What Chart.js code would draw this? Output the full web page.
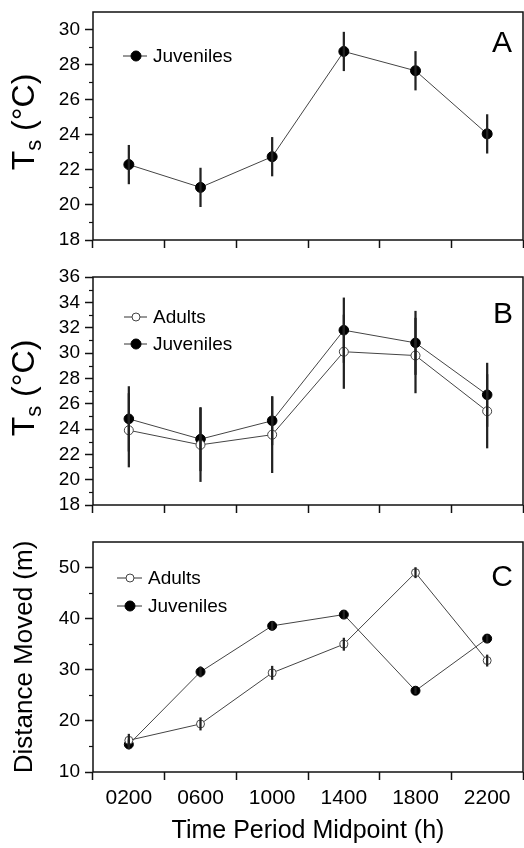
<!DOCTYPE html>
<html>
<head>
<meta charset="utf-8">
<title>Ts and distance moved by time period</title>
<script src="https://cdn.jsdelivr.net/npm/chart.js"></script>
<style>
    body { margin: 0; background: #fff; }
    canvas { position: absolute; left: 0; }
</style>
</head>
<body>
<canvas id="chartA" width="524" height="260" style="top:0"></canvas>
<canvas id="chartB" width="524" height="258" style="top:262px"></canvas>
<canvas id="chartC" width="524" height="328" style="top:520px"></canvas>

<script>
// time periods (x axis)
const timeLabels = ['0200', '0600', '1000', '1400', '1800', '2200'];

// panel A - juvenile Ts
const juvTsA = [22.3, 21.0, 22.75, 28.75, 27.65, 24.05];
const juvTsAErr = [1.1, 1.1, 1.1, 1.1, 1.1, 1.1];

// panel B - adult and juvenile Ts
const adultTsB = [23.9, 22.75, 23.55, 30.1, 29.8, 25.4];
const adultTsBErr = [2.9, 2.9, 3.0, 2.9, 2.95, 2.9];
const juvTsB = [24.8, 23.2, 24.65, 31.8, 30.8, 26.7];
const juvTsBErr = [2.55, 2.5, 1.9, 2.55, 2.5, 2.5];

// panel C - distance moved
const adultDistC = [16.2, 19.4, 29.4, 35.0, 49.0, 31.8];
const adultDistCErr = [1.2, 1.2, 1.3, 1.2, 1.0, 1.1];
const juvDistC = [15.4, 29.6, 38.6, 40.8, 25.9, 36.1];
const juvDistCErr = [0.9, 1.0, 0.8, 0.8, 0.6, 0.7];

// y tick labels
const tsTicksA = [18, 20, 22, 24, 26, 28, 30];
const tsMinorA = [19, 21, 23, 25, 27, 29];
const tsTicksB = [18, 20, 22, 24, 26, 28, 30, 32, 34, 36];
const tsMinorB = [19, 21, 23, 25, 27, 29, 31, 33, 35];
const distTicksC = [10, 20, 30, 40, 50];
const distMinorC = [15, 25, 35, 45];

Chart.defaults.font.family = '"Liberation Sans", Arial, sans-serif';
Chart.defaults.color = '#000';
Chart.defaults.animation = false;

const errBars = (vals, errs) => vals.map((v, i) => [v - errs[i], v + errs[i]]);

// frame, minor ticks, legend, panel letter and y title
const decor = {
    id: 'decor',
    afterDraw(chart, args, o) {
        const ctx = chart.ctx;
        const a = chart.chartArea;
        const y = chart.scales.y;
        ctx.save();
        ctx.strokeStyle = '#111';
        ctx.lineWidth = 1.5;
        ctx.strokeRect(a.left, a.top, a.right - a.left, a.bottom - a.top);

        // minor ticks
        ctx.lineWidth = 1.2;
        o.minor.forEach(v => {
            const py = Math.round(y.getPixelForValue(v)) + 0.5;
            ctx.beginPath();
            ctx.moveTo(a.left - 4, py);
            ctx.lineTo(a.left, py);
            ctx.stroke();
        });

        // legend
        ctx.font = '19px "Liberation Sans", Arial, sans-serif';
        ctx.textBaseline = 'middle';
        ctx.textAlign = 'left';
        o.legend.forEach(it => {
            const ds = chart.data.datasets[it.ds];
            const ly = a.top + it.y;
            ctx.strokeStyle = '#333';
            ctx.lineWidth = 1;
            ctx.beginPath();
            ctx.moveTo(a.left + o.legX[0], ly);
            ctx.lineTo(a.left + o.legX[1], ly);
            ctx.stroke();
            ctx.beginPath();
            ctx.arc(a.left + o.legX[2], ly, it.r, 0, Math.PI * 2);
            ctx.fillStyle = ds.pointBackgroundColor;
            ctx.fill();
            ctx.strokeStyle = ds.pointBorderColor;
            ctx.stroke();
            ctx.fillStyle = '#000';
            ctx.fillText(ds.label, a.left + o.legX[3], ly + 1);
        });

        // panel letter
        ctx.font = '30px "Liberation Sans", Arial, sans-serif';
        ctx.textAlign = 'center';
        ctx.fillText(o.letter, o.letterPos[0], a.top + o.letterPos[1]);

        // y title (rotated, with optional subscript)
        const t = o.title;
        ctx.translate(t.x, (a.top + a.bottom) / 2 + t.dy);
        ctx.rotate(-Math.PI / 2);
        const big = t.size + 'px "Liberation Sans", Arial, sans-serif';
        const small = Math.round(t.size * 0.7) + 'px "Liberation Sans", Arial, sans-serif';
        ctx.font = big;
        const w1 = ctx.measureText(t.main).width;
        const w3 = ctx.measureText(t.rest).width;
        ctx.font = small;
        const w2 = t.sub ? ctx.measureText(t.sub).width : 0;
        const x0 = -(w1 + w2 + w3) / 2;
        ctx.textAlign = 'left';
        ctx.font = big;
        ctx.fillText(t.main, x0, 0);
        if (t.sub) {
            ctx.font = small;
            ctx.fillText(t.sub, x0 + w1, t.size * 0.3);
        }
        ctx.font = big;
        ctx.fillText(t.rest, x0 + w1 + w2, 0);
        ctx.restore();
    }
};

function lineSet(label, data, filled, r) {
    return {
        type: 'line', label, data,
        borderColor: '#444', borderWidth: 1,
        pointRadius: r, pointBorderWidth: 1,
        pointBackgroundColor: filled ? '#000' : '#fff',
        pointBorderColor: filled ? '#000' : '#444',
        order: 2
    };
}

function barSet(vals, errs) {
    return {
        type: 'bar', data: errBars(vals, errs),
        backgroundColor: '#222', barThickness: 1.6, grouped: false, order: 1
    };
}

function makePanel(id, p) {
    new Chart(document.getElementById(id), {
        data: { labels: timeLabels, datasets: p.datasets },
        options: {
            responsive: false,
            layout: { padding: p.padding, autoPadding: false },
            plugins: { legend: { display: false }, tooltip: { enabled: false }, decor: p.decor },
            scales: {
                x: {
                    type: 'category', offset: true,
                    grid: { offset: true, drawOnChartArea: false, tickLength: 8, tickColor: '#111', tickWidth: 1.5 },
                    border: { display: false },
                    ticks: { display: p.xLabels, padding: 6, maxRotation: 0, autoSkip: false, font: { size: 21 } },
                    title: {
                        display: p.xLabels, text: 'Time Period Midpoint (h)',
                        font: { size: 25 }, padding: { top: 4, bottom: 2 }
                    },
                    afterFit: s => { s.height = p.xHeight; s.paddingLeft = 0; s.paddingRight = 0; }
                },
                y: {
                    min: p.yMin, max: p.yMax,
                    grid: { drawOnChartArea: false, tickLength: 8, tickColor: '#111', tickWidth: 1.5 },
                    border: { display: false },
                    ticks: { padding: 5, autoSkip: false, font: { size: 19 } },
                    afterBuildTicks: s => { s.ticks = p.yTicks.map(v => ({ value: v })); },
                    afterFit: s => { s.width = 93; s.paddingTop = 0; s.paddingBottom = 0; }
                }
            }
        },
        plugins: [decor]
    });
}

makePanel('chartA', {
    datasets: [lineSet('Juveniles', juvTsA, true, 5), barSet(juvTsA, juvTsAErr)],
    padding: { top: 12, bottom: 10, left: 0, right: 1 },
    xLabels: false, xHeight: 10,
    yMin: 18, yMax: 31, yTicks: tsTicksA,
    decor: {
        minor: tsMinorA,
        legend: [{ ds: 0, y: 44, r: 5 }],
        legX: [30, 54, 43, 60],
        letter: 'A', letterPos: [502, 32],
        title: { x: 25, dy: -4, size: 32, main: 'T', sub: 's', rest: ' (°C)' }
    }
});

makePanel('chartB', {
    datasets: [
        lineSet('Adults', adultTsB, false, 4.5),
        lineSet('Juveniles', juvTsB, true, 4.8),
        barSet(adultTsB, adultTsBErr),
        barSet(juvTsB, juvTsBErr)
    ],
    padding: { top: 15, bottom: 5, left: 0, right: 1 },
    xLabels: false, xHeight: 10,
    yMin: 18, yMax: 36, yTicks: tsTicksB,
    decor: {
        minor: tsMinorB,
        legend: [{ ds: 0, y: 40, r: 4 }, { ds: 1, y: 67, r: 5 }],
        legX: [31, 54, 43, 60],
        letter: 'B', letterPos: [503, 38],
        title: { x: 25, dy: -3, size: 32, main: 'T', sub: 's', rest: ' (°C)' }
    }
});

makePanel('chartC', {
    datasets: [
        lineSet('Adults', adultDistC, false, 4),
        lineSet('Juveniles', juvDistC, true, 4.5),
        barSet(adultDistC, adultDistCErr),
        barSet(juvDistC, juvDistCErr)
    ],
    padding: { top: 22, bottom: 0, left: 0, right: 1 },
    xLabels: true, xHeight: 76,
    yMin: 10, yMax: 55, yTicks: distTicksC,
    decor: {
        minor: distMinorC,
        legend: [{ ds: 0, y: 36, r: 4 }, { ds: 1, y: 64, r: 5 }],
        legX: [24, 49, 37, 55],
        letter: 'C', letterPos: [502, 36],
        title: { x: 25, dy: 0, size: 26, main: 'Distance Moved (m)', sub: '', rest: '' }
    }
});
</script>
</body>
</html>
